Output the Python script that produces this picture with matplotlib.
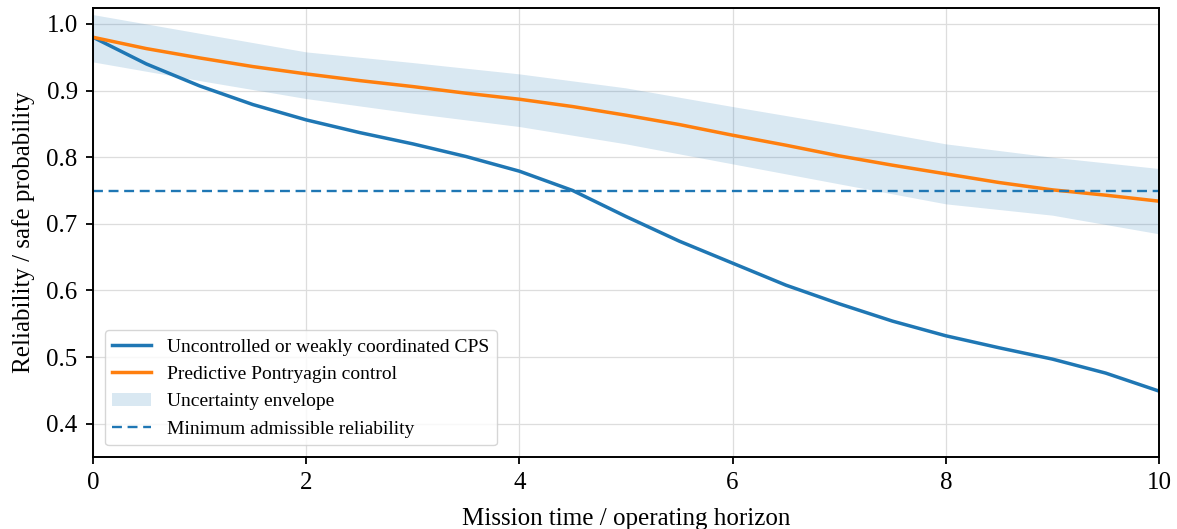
import numpy as np
import matplotlib.pyplot as plt

plt.rcParams['font.family'] = ['Liberation Serif', 'DejaVu Serif']

# mission time grid
t = [0.0, 0.5, 1.0, 1.5, 2.0, 2.5, 3.0, 3.5, 4.0, 4.5, 5.0,
     5.5, 6.0, 6.5, 7.0, 7.5, 8.0, 8.5, 9.0, 9.5, 10.0]
uncontrolled = [0.980, 0.940, 0.907, 0.879, 0.856, 0.837, 0.820, 0.801, 0.779, 0.750, 0.711,
                0.674, 0.641, 0.608, 0.580, 0.554, 0.532, 0.514, 0.497, 0.476, 0.449]
pontryagin = [0.980, 0.963, 0.949, 0.936, 0.925, 0.915, 0.906, 0.896, 0.887, 0.876, 0.863,
              0.849, 0.833, 0.818, 0.802, 0.788, 0.775, 0.762, 0.751, 0.743, 0.734]

t_env = [0, 1, 2, 3, 4, 5, 6, 7, 8, 9, 10]
env_upper = [1.014, 0.986, 0.958, 0.942, 0.925, 0.904, 0.876, 0.849, 0.820, 0.800, 0.783]
env_lower = [0.943, 0.915, 0.888, 0.866, 0.846, 0.820, 0.790, 0.760, 0.730, 0.713, 0.685]

r_min = 0.75

fig = plt.figure(figsize=(11.77, 5.29), dpi=100)
ax = fig.add_axes([0.079, 0.136, 0.9057, 0.849])

ax.plot(t, uncontrolled, color='#1f77b4', lw=2.5, label='Uncontrolled or weakly coordinated CPS')
ax.plot(t, pontryagin, color='#ff7f0e', lw=2.5, label='Predictive Pontryagin control')
ax.fill_between(t_env, env_lower, env_upper, color='#1f77b4', alpha=0.17, lw=0,
                label='Uncertainty envelope')
ax.axhline(r_min, color='#1f77b4', ls=(0, (4.2, 2.4)), lw=1.7, label='Minimum admissible reliability')

ax.set_xlim(0, 10)
ax.set_ylim(0.35, 1.024)
ax.set_xticks([0, 2, 4, 6, 8, 10])
ax.set_yticks([0.4, 0.5, 0.6, 0.7, 0.8, 0.9, 1.0])
ax.grid(True, color='#dddddd', lw=0.9)
ax.set_axisbelow(True)
for s in ax.spines.values():
    s.set_linewidth(1.4)
ax.tick_params(labelsize=18, width=1.3, length=5, pad=6)
ax.set_xlabel('Mission time / operating horizon', fontsize=18, labelpad=10)
ax.set_ylabel('Reliability / safe probability', fontsize=18, labelpad=8)

leg = ax.legend(loc='lower left', fontsize=14, framealpha=0.8, edgecolor='#cccccc',
                borderaxespad=0.6, handlelength=2.0)

fig.savefig('out.png', dpi=100)
